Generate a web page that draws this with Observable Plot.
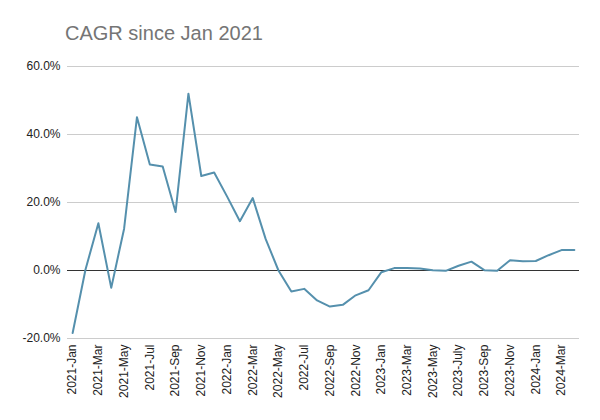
<!DOCTYPE html>
<html>
<head>
<meta charset="utf-8">
<script src="https://cdn.jsdelivr.net/npm/d3@7"></script>
<script src="https://cdn.jsdelivr.net/npm/@observablehq/plot@0.6"></script>
<style>
  html, body { margin: 0; padding: 0; background: #fff; }
  #title { font-family: "Liberation Sans", Arial, sans-serif; font-size: 20px; color: #757575;
           padding: 22px 0 0 65px; height: 28px; line-height: 22px; }
  #chart svg { display: block; }
</style>
</head>
<body>
<div id="title">CAGR since Jan 2021</div>
<div id="chart"></div>
<script>
const months = [
  "2021-Jan","2021-Feb","2021-Mar","2021-Apr","2021-May","2021-Jun","2021-Jul","2021-Aug","2021-Sep","2021-Oct","2021-Nov","2021-Dec",
  "2022-Jan","2022-Feb","2022-Mar","2022-Apr","2022-May","2022-Jun","2022-Jul","2022-Aug","2022-Sep","2022-Oct","2022-Nov","2022-Dec",
  "2023-Jan","2023-Feb","2023-Mar","2023-Apr","2023-May","2023-Jun","2023-July","2023-Aug","2023-Sep","2023-Oct","2023-Nov","2023-Dec",
  "2024-Jan","2024-Feb","2024-Mar","2024-Apr"
];
const cagr = [
  -18.4, 0.3, 13.9, -5.1, 12.3, 45.1, 31.2, 30.6, 17.2, 52.0, 27.8, 28.8,
  21.8, 14.5, 21.3, 9.3, 0.0, -6.2, -5.4, -8.8, -10.6, -10.1, -7.3, -5.8,
  -0.5, 0.7, 0.7, 0.6, 0.1, -0.1, 1.4, 2.6, 0.1, -0.1, 3.0, 2.7,
  2.8, 4.5, 6.0, 6.0
];
const tickLabels = months.filter((d, i) => i % 2 === 0);
const yTicks = [-20, 0, 20, 40, 60];

const data = months.map((m, i) => ({month: m, value: cagr[i]}));

const chart = Plot.plot({
  width: 600,
  height: 370,
  marginTop: 16,
  marginBottom: 82,
  marginLeft: 67,
  marginRight: 21,
  style: {fontFamily: "'Liberation Sans', Arial, sans-serif", fontSize: "12px", color: "#222"},
  x: {type: "point", domain: months, padding: 0.4},
  y: {domain: [-20, 60]},
  marks: [
    Plot.gridY(yTicks, {stroke: "#cccccc", strokeOpacity: 1}),
    Plot.ruleY([0], {stroke: "#333"}),
    Plot.axisY(yTicks, {tickSize: 0, tickPadding: 7, tickFormat: d => d.toFixed(1) + "%", label: null, fontSize: 12}),
    Plot.axisX(tickLabels, {tickSize: 0, tickPadding: 6, tickRotate: -90, label: null, fontSize: 12}),
    Plot.line(data, {x: "month", y: "value", stroke: "#5590ad", strokeWidth: 2})
  ]
});
document.getElementById("chart").appendChild(chart);
</script>
</body>
</html>
